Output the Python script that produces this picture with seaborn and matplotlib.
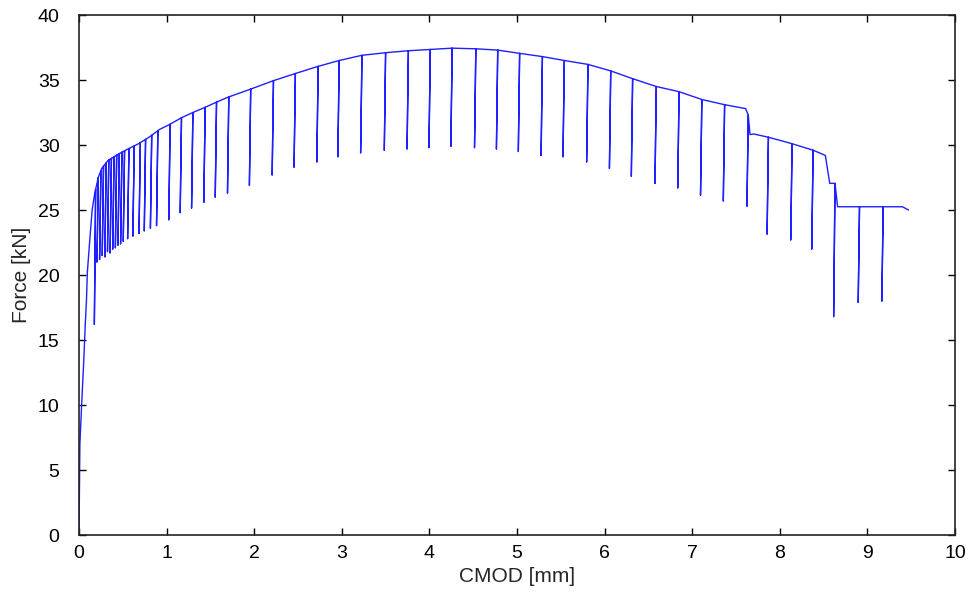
import seaborn as sns
import matplotlib.pyplot as plt
import pandas as pd
import numpy as np

sns.set_style("ticks")
plt.rcParams['font.family'] = ['Liberation Sans', 'DejaVu Sans']

# Envelope of the force-CMOD curve (mm, kN)
env_cmod = [0.0, 0.005, 0.01, 0.03, 0.055, 0.07, 0.085, 0.095, 0.115, 0.13,
            0.15, 0.18, 0.22, 0.26, 0.33, 0.45, 0.56, 0.68, 0.80, 0.92,
            1.04, 1.17, 1.30, 1.44, 1.57, 1.71, 1.96, 2.22, 2.47, 2.73,
            2.97, 3.23, 3.50, 3.76, 4.01, 4.26, 4.53, 4.78, 5.03, 5.29,
            5.54, 5.81, 6.07, 6.32, 6.59, 6.85, 7.11, 7.37, 7.61, 7.64,
            7.66, 7.70, 7.87, 8.14, 8.38, 8.52, 8.57, 8.63, 8.66, 8.91,
            9.18, 9.40, 9.47]
env_force = [0.0, 3.5, 7.0, 10.0, 13.5, 16.0, 18.0, 20.2, 22.0, 23.3,
             25.0, 26.3, 27.5, 28.2, 28.8, 29.3, 29.7, 30.1, 30.6, 31.2,
             31.6, 32.1, 32.5, 32.9, 33.3, 33.7, 34.3, 34.95, 35.5, 36.05,
             36.5, 36.9, 37.1, 37.25, 37.35, 37.45, 37.4, 37.3, 37.05, 36.8,
             36.5, 36.2, 35.7, 35.1, 34.5, 34.1, 33.5, 33.1, 32.8, 32.3,
             30.8, 30.85, 30.6, 30.1, 29.6, 29.2, 27.05, 27.05, 25.25, 25.25,
             25.25, 25.25, 25.0]

# Unloading-reloading cycles: CMOD position and minimum force
cyc_cmod = [0.19, 0.22, 0.25, 0.28, 0.31, 0.34, 0.37, 0.40, 0.43, 0.46,
            0.49, 0.52, 0.57, 0.63, 0.70, 0.76, 0.83, 0.90, 1.04, 1.17,
            1.30, 1.44, 1.57, 1.71, 1.96, 2.22, 2.47, 2.73, 2.97, 3.23,
            3.50, 3.76, 4.01, 4.26, 4.53, 4.78, 5.03, 5.29, 5.54, 5.81,
            6.07, 6.32, 6.59, 6.85, 7.11, 7.37, 7.64, 7.87, 8.14, 8.38,
            8.63, 8.91, 9.18]
cyc_min = [16.2, 21.0, 21.2, 21.5, 21.4, 21.8, 21.7, 22.0, 22.1, 22.3,
           22.4, 22.6, 22.8, 23.0, 23.2, 23.4, 23.6, 23.8, 24.25, 24.8,
           25.15, 25.6, 26.0, 26.3, 26.9, 27.7, 28.3, 28.7, 29.1, 29.4,
           29.6, 29.7, 29.8, 29.9, 29.8, 29.7, 29.5, 29.2, 29.1, 28.7,
           28.2, 27.6, 27.05, 26.7, 26.15, 25.7, 25.3, 23.15, 22.7, 22.0,
           16.8, 17.9, 18.0]

# build one continuous path: envelope with a vertical unload/reload at each cycle
lean = 0.015
path_x, path_y = [], []
ci = 0
for ex, ey in zip(env_cmod, env_force):
    while ci < len(cyc_cmod) and cyc_cmod[ci] < ex:
        top = np.interp(cyc_cmod[ci], env_cmod, env_force)
        path_x += [cyc_cmod[ci], cyc_cmod[ci] - lean, cyc_cmod[ci]]
        path_y += [top, cyc_min[ci], top]
        ci += 1
    path_x.append(ex)
    path_y.append(ey)
    while ci < len(cyc_cmod) and cyc_cmod[ci] == ex:
        path_x += [ex - lean, ex]
        path_y += [cyc_min[ci], ey]
        ci += 1

df = pd.DataFrame({'CMOD': path_x, 'Force': path_y})

fig = plt.figure(figsize=(9.73, 5.93), dpi=100)
ax = fig.add_axes([0.0812, 0.0978, 0.9003, 0.8769])
sns.lineplot(data=df, x='CMOD', y='Force', sort=False, estimator=None,
             color='#1f1fff', linewidth=1.0, ax=ax)

ax.set_xlim(0, 10)
ax.set_ylim(0, 40)
ax.set_xticks(range(0, 11))
ax.set_yticks(range(0, 41, 5))
ax.set_xlabel('CMOD [mm]', fontsize=15, labelpad=4)
ax.set_ylabel('Force [kN]', fontsize=15, labelpad=5)
ax.tick_params(direction='in', length=5, width=1, top=True, right=True,
               labelsize=14, colors='black')
ax.tick_params(axis='x', pad=7)
ax.tick_params(axis='y', pad=14)
for s in ax.spines.values():
    s.set_visible(True)
    s.set_linewidth(1.2)
    s.set_color('#222222')

plt.savefig('out.png', dpi=100)
